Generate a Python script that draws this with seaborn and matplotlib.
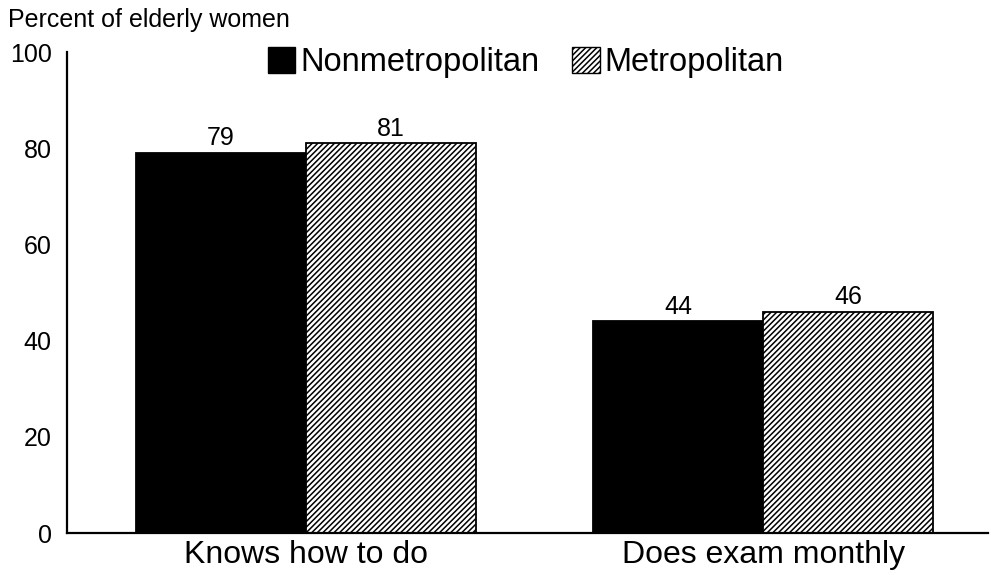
import pandas as pd
import matplotlib
matplotlib.use("Agg")
import matplotlib.pyplot as plt
import seaborn as sns
from matplotlib.patches import Patch

# data
categories = ["Knows how to do", "Does exam monthly"]
groups = ["Nonmetropolitan", "Metropolitan"]
nonmetro = [79, 44]
metro = [81, 46]

df = pd.DataFrame({
    "category": categories * 2,
    "area": [groups[0]] * 2 + [groups[1]] * 2,
    "pct": nonmetro + metro,
})

sns.set_style("white")
plt.rcParams["font.family"] = ["Liberation Sans", "DejaVu Sans"]
plt.rcParams["hatch.linewidth"] = 1.1
for k in ["text.color", "axes.labelcolor", "xtick.color", "ytick.color", "axes.edgecolor"]:
    plt.rcParams[k] = "black"

fig = plt.figure(figsize=(9.91, 5.75), dpi=100)
ax = fig.add_axes([0.0676, 0.073, 0.9294, 0.8365])

sns.barplot(data=df, x="category", y="pct", hue="area", order=categories,
            hue_order=groups, palette=["black", "white"], width=0.745,
            edgecolor="black", linewidth=1.3, saturation=1, ax=ax, legend=False)

# hatch the metropolitan bars
for cont, grp in zip(ax.containers, groups):
    if grp == "Metropolitan":
        for p in cont:
            p.set_hatch("//////")
    ax.bar_label(cont, fmt="%d", padding=2, fontsize=18)

ax.set_xlim(-0.523, 1.492)
ax.set_ylim(0, 100)
ax.set_yticks([0, 20, 40, 60, 80, 100])
ax.set_xlabel("")
ax.set_ylabel("")
sns.despine(ax=ax)
for s in ["left", "bottom"]:
    ax.spines[s].set_linewidth(1.6)
ax.tick_params(axis="y", direction="in", length=8, width=1.6, labelsize=18, pad=11)
ax.tick_params(axis="x", length=0, labelsize=23, pad=5)

fig.text(0.008, 0.966, "Percent of elderly women", fontsize=18, va="center", ha="left")

handles = [Patch(facecolor="black", edgecolor="black", label=groups[0]),
           Patch(facecolor="white", edgecolor="black", hatch="//////", label=groups[1])]
ax.legend(handles=handles, loc="center", bbox_to_anchor=(0.498, 0.978), ncol=2,
          frameon=False, fontsize=23.5, handlelength=0.85, handleheight=0.85,
          handletextpad=0.15, columnspacing=1.0)

fig.savefig("out.png", dpi=100)
